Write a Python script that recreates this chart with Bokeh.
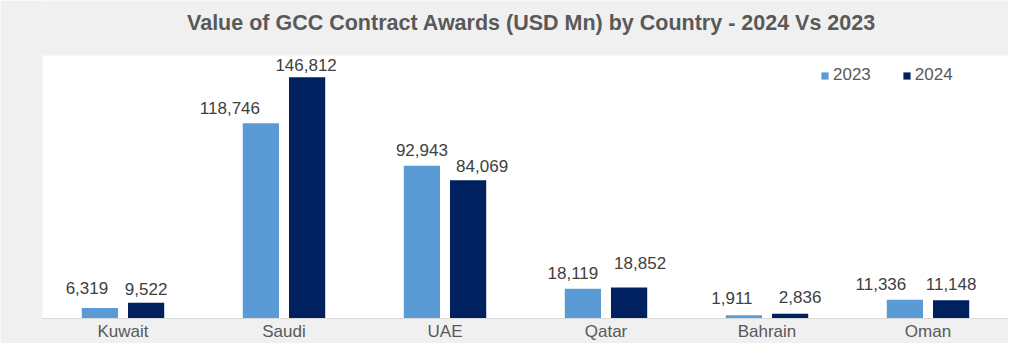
from bokeh.plotting import figure
from bokeh.models import ColumnDataSource, Legend, LegendItem, Range1d, FactorRange, Label, BoxAnnotation
from bokeh.transform import dodge
from bokeh.embed import file_html
from bokeh.resources import INLINE
from bokeh.core.properties import value

countries = ["Kuwait", "Saudi", "UAE", "Qatar", "Bahrain", "Oman"]
v2023 = [6319, 118746, 92943, 18119, 1911, 11336]
v2024 = [9522, 146812, 84069, 18852, 2836, 11148]
years = ["2023", "2024"]

# label nudges in screen pixels (layout only, as placed in the original chart)
dx2023 = [-13, -31, 0, -10, -12, -24]
dx2024 = [0, -1, 14, 11, 10, 0]
gap2023 = [20, 15, 16, 16, 17, 16]
gap2024 = [14, 12, 14, 25, 17, 16]

src = ColumnDataSource(dict(
    c=countries, v2023=v2023, v2024=v2024,
    l2023=[f"{v:,}" for v in v2023], l2024=[f"{v:,}" for v in v2024],
    dx2023=dx2023, dx2024=dx2024,
    dy2023=[-g for g in gap2023], dy2024=[-g for g in gap2024],
))

BG = "#f0f0f0"
W, H = 1008, 343
LEFT, RIGHT, BOTTOM = 42, 0, 25
PLOT_TOP = 55                      # top of the white plot area, px from canvas top
frame_h = H - BOTTOM               # frame spans the full canvas height above the axis
plot_h = frame_h - PLOT_TOP
YMAX = 160000
y_end = YMAX * frame_h / plot_h

p = figure(width=W, height=H, x_range=FactorRange(*countries), y_range=Range1d(0, y_end),
           output_backend="svg", toolbar_location=None,
           min_border_left=LEFT, min_border_right=RIGHT, min_border_bottom=BOTTOM, min_border_top=0)
p.border_fill_color = BG
p.background_fill_color = BG
p.outline_line_color = None

# white plot area
p.add_layout(BoxAnnotation(bottom=0, top=YMAX, fill_color="white", fill_alpha=1,
                           line_color=None, level="underlay"))

p.add_layout(Label(x=489, y=frame_h - 22, x_units="screen", y_units="screen",
                   text="Value of GCC Contract Awards (USD Mn) by Country - 2024 Vs 2023",
                   text_align="center", text_baseline="middle",
                   text_font="Liberation Sans", text_font_size="21.5px",
                   text_font_style="bold", text_color="#595959"))

b1 = p.vbar(x=dodge("c", -0.1435, range=p.x_range), top="v2023", width=0.225, source=src,
            fill_color="#5b9bd5", line_color=None)
b2 = p.vbar(x=dodge("c", 0.1435, range=p.x_range), top="v2024", width=0.225, source=src,
            fill_color="#002060", line_color=None)

for yr, off in (("2023", -0.1435), ("2024", 0.1435)):
    p.text(x=dodge("c", off, range=p.x_range), y="v" + yr, text="l" + yr, source=src,
           x_offset="dx" + yr, y_offset="dy" + yr,
           text_align="center", text_baseline="alphabetic",
           text_font=value("Liberation Sans"), text_font_size="17px", text_color="#404040")

legend = Legend(items=[LegendItem(label=years[0], renderers=[b1]),
                       LegendItem(label=years[1], renderers=[b2])],
                location=(778, 233), orientation="horizontal",
                background_fill_alpha=0, border_line_color=None,
                label_text_font="Liberation Sans", label_text_font_size="17px",
                label_text_color="#595959", glyph_width=9, glyph_height=9,
                spacing=31, margin=0, padding=4, label_standoff=4)
p.add_layout(legend)

p.yaxis.visible = False
p.xgrid.grid_line_color = None
p.ygrid.grid_line_color = None
p.xaxis.axis_line_color = "#d9d9d9"
p.xaxis.major_tick_line_color = None
p.xaxis.minor_tick_line_color = None
p.xaxis.major_tick_out = 0
p.xaxis.major_tick_in = 0
p.xaxis.major_label_text_font = "Liberation Sans"
p.xaxis.major_label_text_font_size = "17px"
p.xaxis.major_label_text_color = "#595959"
p.xaxis.major_label_standoff = 3

open("out.html", "w").write(file_html(p, INLINE))
